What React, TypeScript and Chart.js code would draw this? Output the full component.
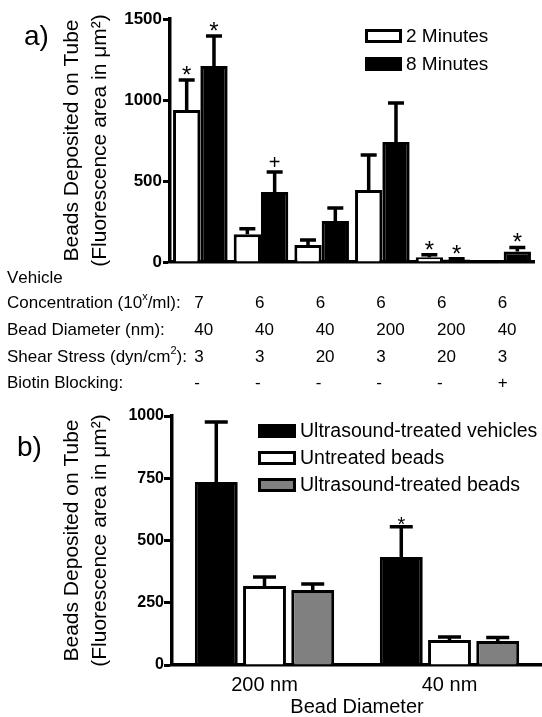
import React, { useEffect, useRef } from 'react';
import { Chart, registerables } from 'chart.js';

Chart.register(...registerables);

const FONT = '"Liberation Sans", Arial, Helvetica, sans-serif';

// ---------- Panel a data ----------
const aCategories = ['G1', 'G2', 'G3', 'G4', 'G5', 'G6'];
const aLabels = ['2 Minutes', '8 Minutes'];
const aTwoMin = [938, 172, 105, 444, 30, 0];
const aTwoMinErr = [185, 33, 31, 216, 15, 0];
const aEightMin = [1210, 432, 253, 740, 15, 65];
const aEightMinErr = [185, 124, 80, 241, 5, 25];
const aTwoMinMarks = ['*', '', '', '', '*', ''];
const aEightMinMarks = ['*', '+', '', '', '*', '*'];
const aYTicks = [0, 500, 1000, 1500];

const tableHeader = 'Vehicle';
const tableRowLabels = [
  'Concentration (10^x/ml):',
  'Bead Diameter (nm):',
  'Shear Stress (dyn/cm^2):',
  'Biotin Blocking:',
];
const concentration = ['7', '6', '6', '6', '6', '6'];
const beadDiameter = ['40', '40', '40', '200', '200', '40'];
const shearStress = ['3', '3', '20', '3', '20', '3'];
const biotinBlocking = ['-', '-', '-', '-', '-', '+'];

// ---------- Panel b data ----------
const bCategories = ['200 nm', '40 nm'];
const bLabels = ['Ultrasound-treated vehicles', 'Untreated beads', 'Ultrasound-treated beads'];
const bVehicles = [735, 434];
const bVehiclesErr = [241, 121];
const bUntreated = [317, 100];
const bUntreatedErr = [36, 12];
const bUSBeads = [301, 96];
const bUSBeadsErr = [24, 14];
const bVehiclesMarks = ['', '*'];
const bYTicks = [0, 250, 500, 750, 1000];

const yTitle = ['Beads Deposited on Tube', '(Fluorescence area in \u03bcm\u00b2)'];

function drawRich(ctx: CanvasRenderingContext2D, text: string, x: number, y: number, size: number) {
  let cx = x;
  for (let i = 0; i < text.length; i++) {
    const ch = text[i];
    if (ch === '^' && i + 1 < text.length) {
      const s = text[i + 1];
      ctx.font = `${Math.round(size * 0.65)}px ${FONT}`;
      ctx.fillText(s, cx, y - size * 0.35);
      cx += ctx.measureText(s).width;
      i++;
    } else {
      ctx.font = `${size}px ${FONT}`;
      ctx.fillText(ch, cx, y);
      cx += ctx.measureText(ch).width;
    }
  }
}

const extrasPlugin = {
  id: 'extras',
  afterDatasetsDraw(chart: any, _args: any, opts: any) {
    const ctx: CanvasRenderingContext2D = chart.ctx;
    const ys = chart.scales.y;
    chart.data.datasets.forEach((ds: any, di: number) => {
      const meta = chart.getDatasetMeta(di);
      meta.data.forEach((el: any, i: number) => {
        const v = ds.data[i];
        const e = (ds.errors && ds.errors[i]) || 0;
        const x = el.x;
        const yTop = ys.getPixelForValue(v);
        const yErr = ys.getPixelForValue(v + e);
        ctx.save();
        if (e > 0) {
          ctx.strokeStyle = '#000';
          ctx.lineWidth = opts.errWidth;
          ctx.lineCap = 'butt';
          ctx.beginPath();
          ctx.moveTo(x, yTop);
          ctx.lineTo(x, yErr);
          ctx.moveTo(x - opts.capWidth / 2, yErr);
          ctx.lineTo(x + opts.capWidth / 2, yErr);
          ctx.stroke();
        }
        const m = ds.marks && ds.marks[i];
        if (m) {
          const st = opts.marks[m];
          ctx.font = `${st.size}px ${FONT}`;
          ctx.fillStyle = '#000';
          ctx.textAlign = 'center';
          ctx.textBaseline = 'alphabetic';
          ctx.fillText(m, x, yErr + st.dy);
        }
        ctx.restore();
      });
    });
  },
  afterDraw(chart: any, _args: any, opts: any) {
    const ctx: CanvasRenderingContext2D = chart.ctx;
    ctx.save();
    // panel label
    ctx.fillStyle = '#000';
    ctx.font = `${opts.panel.size}px ${FONT}`;
    ctx.textAlign = 'left';
    ctx.textBaseline = 'alphabetic';
    ctx.fillText(opts.panel.text, opts.panel.x, opts.panel.y);
    // legend
    const lg = opts.legend;
    chart.data.datasets.forEach((ds: any, di: number) => {
      const cy = lg.y + di * lg.dy;
      const bx = lg.x;
      const by = cy - lg.boxH / 2;
      ctx.fillStyle = ds.backgroundColor;
      ctx.fillRect(bx, by, lg.boxW, lg.boxH);
      ctx.strokeStyle = '#000';
      ctx.lineWidth = 3;
      ctx.strokeRect(bx + 1.5, by + 1.5, lg.boxW - 3, lg.boxH - 3);
      ctx.fillStyle = '#000';
      ctx.font = `${lg.size}px ${FONT}`;
      ctx.textAlign = 'left';
      ctx.textBaseline = 'middle';
      ctx.fillText(ds.label, bx + lg.boxW + lg.gap, cy + 1);
    });
    // table
    if (opts.table) {
      const xs = chart.scales.x;
      const size = 17;
      ctx.fillStyle = '#000';
      ctx.textAlign = 'left';
      ctx.textBaseline = 'middle';
      drawRich(ctx, tableHeader, 7, 278, size);
      const rowsY = [303, 330, 357, 383];
      const cols = [concentration, beadDiameter, shearStress, biotinBlocking];
      tableRowLabels.forEach((lab, r) => {
        drawRich(ctx, lab, 7, rowsY[r], size);
        ctx.font = `${size}px ${FONT}`;
        cols[r].forEach((val, i) => {
          ctx.fillText(val, xs.getPixelForValue(i) - 6, rowsY[r]);
        });
      });
    }
    ctx.restore();
  },
};

function yAxis(ticks: number[], max: number, width: number, tickSize: number, tickLen: number, tickPad: number) {
  return {
    min: 0,
    max,
    afterBuildTicks: (s: any) => {
      s.ticks = ticks.map((v) => ({ value: v }));
    },
    afterFit: (s: any) => {
      s.width = width;
    },
    ticks: {
      color: '#000',
      font: { family: FONT, size: tickSize, weight: 'bold' },
      padding: tickPad,
      callback: (v: any) => String(v),
    },
    grid: {
      display: true,
      drawOnChartArea: false,
      drawTicks: true,
      tickLength: tickLen,
      tickWidth: 3,
      tickColor: '#000',
      color: '#000',
    },
    border: { display: true, color: '#000', width: 3.5 },
    title: {
      display: true,
      text: yTitle,
      color: '#000',
      font: { family: FONT, size: 21, lineHeight: 28 / 21 },
      padding: { top: 58, bottom: 0 },
    },
  };
}

export default function App() {
  const refA = useRef<HTMLCanvasElement>(null);
  const refB = useRef<HTMLCanvasElement>(null);

  useEffect(() => {
    const chartA = new Chart(refA.current as HTMLCanvasElement, {
      type: 'bar',
      data: {
        labels: aCategories,
        datasets: [
          {
            label: aLabels[0],
            data: aTwoMin,
            errors: aTwoMinErr,
            marks: aTwoMinMarks,
            backgroundColor: '#ffffff',
            borderColor: '#000000',
            borderWidth: 3,
            categoryPercentage: 0.9,
            barPercentage: 1.0,
          } as any,
          {
            label: aLabels[1],
            data: aEightMin,
            errors: aEightMinErr,
            marks: aEightMinMarks,
            backgroundColor: '#000000',
            borderColor: '#000000',
            borderWidth: 3,
            categoryPercentage: 0.9,
            barPercentage: 1.0,
          } as any,
        ],
      },
      options: {
        animation: false,
        responsive: false,
        layout: { padding: { left: 0, right: 8, top: 19, bottom: 0 } },
        plugins: {
          legend: { display: false },
          tooltip: { enabled: false },
          extras: {
            errWidth: 3.5,
            capWidth: 16,
            marks: { '*': { size: 24, dy: 3 }, '+': { size: 20, dy: -3 } },
            panel: { text: 'a)', x: 24, y: 45, size: 28 },
            legend: { x: 365, y: 36, dy: 28, boxW: 37, boxH: 14, gap: 4, size: 19 },
            table: true,
          },
        } as any,
        scales: {
          x: {
            type: 'category',
            offset: true,
            afterFit: (s: any) => {
              s.height = 395 - 262;
            },
            ticks: { display: false },
            grid: { display: false, drawTicks: false },
            border: { display: true, color: '#000', width: 3.5 },
          },
          y: yAxis(aYTicks, 1500, 170, 17, 7, 1) as any,
        },
      },
      plugins: [extrasPlugin],
    } as any);

    const chartB = new Chart(refB.current as HTMLCanvasElement, {
      type: 'bar',
      data: {
        labels: bCategories,
        datasets: [
          {
            label: bLabels[0],
            data: bVehicles,
            errors: bVehiclesErr,
            marks: bVehiclesMarks,
            backgroundColor: '#000000',
            borderColor: '#000000',
            borderWidth: 3,
            categoryPercentage: 0.782,
            barPercentage: 0.89,
          } as any,
          {
            label: bLabels[1],
            data: bUntreated,
            errors: bUntreatedErr,
            backgroundColor: '#ffffff',
            borderColor: '#000000',
            borderWidth: 3,
            categoryPercentage: 0.782,
            barPercentage: 0.89,
          } as any,
          {
            label: bLabels[2],
            data: bUSBeads,
            errors: bUSBeadsErr,
            backgroundColor: '#808080',
            borderColor: '#000000',
            borderWidth: 3,
            categoryPercentage: 0.782,
            barPercentage: 0.89,
          } as any,
        ],
      },
      options: {
        animation: false,
        responsive: false,
        layout: { padding: { left: 0, right: 0, top: 21, bottom: 0 } },
        plugins: {
          legend: { display: false },
          tooltip: { enabled: false },
          extras: {
            errWidth: 3.5,
            capWidth: 23,
            marks: { '*': { size: 20, dy: 4 } },
            panel: { text: 'b)', x: 17, y: 61, size: 28 },
            legend: { x: 258, y: 36, dy: 27, boxW: 38, boxH: 14, gap: 4, size: 19.5 },
            table: false,
          },
        } as any,
        scales: {
          x: {
            type: 'category',
            offset: true,
            afterFit: (s: any) => {
              s.height = 52;
            },
            ticks: { color: '#000', font: { family: FONT, size: 20 }, padding: 8 },
            grid: { display: false, drawTicks: false },
            border: { display: true, color: '#000', width: 3.5 },
            title: {
              display: true,
              text: 'Bead Diameter',
              color: '#000',
              font: { family: FONT, size: 20, lineHeight: 1 },
              padding: { top: 0, bottom: 0 },
            },
          },
          y: yAxis(bYTicks, 1000, 172, 16, 8, 0) as any,
        },
      },
      plugins: [extrasPlugin],
    } as any);

    return () => {
      chartA.destroy();
      chartB.destroy();
    };
  }, []);

  return (
    <div style={{ position: 'absolute', left: 0, top: 0, width: 542, height: 717, background: '#fff' }}>
      <canvas ref={refA} width={542} height={395} style={{ position: 'absolute', left: 0, top: 0, display: 'block' }} />
      <canvas ref={refB} width={542} height={322} style={{ position: 'absolute', left: 0, top: 395, display: 'block' }} />
    </div>
  );
}
